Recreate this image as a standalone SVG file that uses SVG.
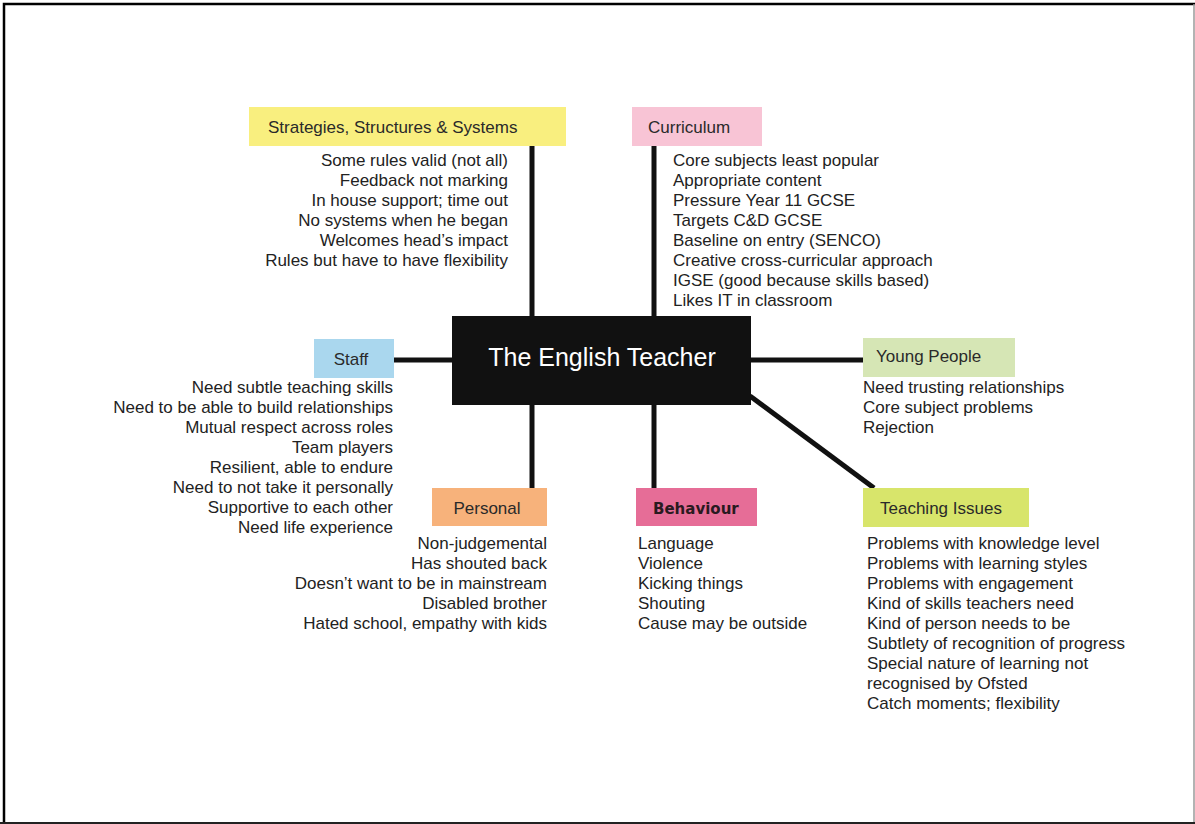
<svg xmlns="http://www.w3.org/2000/svg" width="1195" height="824" viewBox="0 0 1195 824">
  <style>
    .t { font-family: "Liberation Sans", Arial, sans-serif; font-size: 17px; fill: #222222; }
    .r { text-anchor: end; }
    .hd { font-family: "Liberation Sans", Arial, sans-serif; font-size: 17px; fill: #2a2a2a; }
    .conn line { stroke: #111111; stroke-width: 5; }
  </style>

  <!-- page frame -->
  <rect x="0" y="0" width="1195" height="824" fill="#ffffff"/>
  <path d="M4 824 V4 H1195" fill="none" stroke="#000000" stroke-width="2.5"/>
  <line x1="1194" y1="4" x2="1194" y2="824" stroke="#9a9a9a" stroke-width="1.5"/>
  <line x1="0" y1="823" x2="1195" y2="823" stroke="#222222" stroke-width="2"/>

  <!-- connectors -->
  <g id="connectors" class="conn">
    <line x1="532" y1="146" x2="532" y2="318"/>
    <line x1="654" y1="146" x2="654" y2="318"/>
    <line x1="394" y1="360" x2="454" y2="360"/>
    <line x1="750" y1="360" x2="863" y2="360"/>
    <line x1="532" y1="403" x2="532" y2="488"/>
    <line x1="654" y1="403" x2="654" y2="488"/>
    <line x1="750" y1="396" x2="874" y2="488"/>
  </g>

  <!-- central node -->
  <g id="center">
    <rect x="452" y="316" width="299" height="89" fill="#111111"/>
    <text x="602" y="366" text-anchor="middle" font-family="Liberation Sans, Arial, sans-serif" font-size="25" fill="#ffffff">The English Teacher</text>
  </g>

  <g id="strategies">
    <rect x="249" y="107" width="317" height="39" fill="#f9ef7f"/>
    <text class="hd" x="268" y="133">Strategies, Structures &amp; Systems</text>
    <g class="t r">
      <text x="508" y="166">Some rules valid (not all)</text>
      <text x="508" y="186">Feedback not marking</text>
      <text x="508" y="206">In house support; time out</text>
      <text x="508" y="226">No systems when he began</text>
      <text x="508" y="246">Welcomes head’s impact</text>
      <text x="508" y="266">Rules but have to have flexibility</text>
    </g>
  </g>

  <g id="curriculum">
    <rect x="632" y="107" width="130" height="39" fill="#f8c4d5"/>
    <text class="hd" x="648" y="133">Curriculum</text>
    <g class="t">
      <text x="673" y="166">Core subjects least popular</text>
      <text x="673" y="186">Appropriate content</text>
      <text x="673" y="206">Pressure Year 11 GCSE</text>
      <text x="673" y="226">Targets C&amp;D GCSE</text>
      <text x="673" y="246">Baseline on entry (SENCO)</text>
      <text x="673" y="266">Creative cross-curricular approach</text>
      <text x="673" y="286">IGSE (good because skills based)</text>
      <text x="673" y="306">Likes IT in classroom</text>
    </g>
  </g>

  <g id="staff">
    <rect x="314" y="339" width="80" height="39" fill="#aad7ee"/>
    <text class="hd" x="351" y="365" text-anchor="middle">Staff</text>
    <g class="t r">
      <text x="393" y="393">Need subtle teaching skills</text>
      <text x="393" y="413">Need to be able to build relationships</text>
      <text x="393" y="433">Mutual respect across roles</text>
      <text x="393" y="453">Team players</text>
      <text x="393" y="473">Resilient, able to endure</text>
      <text x="393" y="493">Need to not take it personally</text>
      <text x="393" y="513">Supportive to each other</text>
      <text x="393" y="533">Need life experience</text>
    </g>
  </g>

  <g id="young-people">
    <rect x="863" y="338" width="152" height="39" fill="#d6e6b5"/>
    <text class="hd" x="876" y="362">Young People</text>
    <g class="t">
      <text x="863" y="393">Need trusting relationships</text>
      <text x="863" y="413">Core subject problems</text>
      <text x="863" y="433">Rejection</text>
    </g>
  </g>

  <g id="personal">
    <rect x="432" y="488" width="115" height="38" fill="#f7b27b"/>
    <text class="hd" x="487" y="514" text-anchor="middle">Personal</text>
    <g class="t r">
      <text x="547" y="549">Non-judgemental</text>
      <text x="547" y="569">Has shouted back</text>
      <text x="547" y="589">Doesn’t want to be in mainstream</text>
      <text x="547" y="609">Disabled brother</text>
      <text x="547" y="629">Hated school, empathy with kids</text>
    </g>
  </g>

  <g id="behaviour">
    <rect x="636" y="488" width="121" height="38" fill="#e66d97"/>
    <text x="653" y="514" font-family="DejaVu Sans, Verdana, sans-serif" font-size="15" font-weight="bold" fill="#2a1a20">Behaviour</text>
    <g class="t">
      <text x="638" y="549">Language</text>
      <text x="638" y="569">Violence</text>
      <text x="638" y="589">Kicking things</text>
      <text x="638" y="609">Shouting</text>
      <text x="638" y="629">Cause may be outside</text>
    </g>
  </g>

  <g id="teaching-issues">
    <rect x="863" y="488" width="166" height="39" fill="#d8e56b"/>
    <text class="hd" x="880" y="514">Teaching Issues</text>
    <g class="t">
      <text x="867" y="549">Problems with knowledge level</text>
      <text x="867" y="569">Problems with learning styles</text>
      <text x="867" y="589">Problems with engagement</text>
      <text x="867" y="609">Kind of skills teachers need</text>
      <text x="867" y="629">Kind of person needs to be</text>
      <text x="867" y="649">Subtlety of recognition of progress</text>
      <text x="867" y="669">Special nature of learning not</text>
      <text x="867" y="689">recognised by Ofsted</text>
      <text x="867" y="709">Catch moments; flexibility</text>
    </g>
  </g>
</svg>
